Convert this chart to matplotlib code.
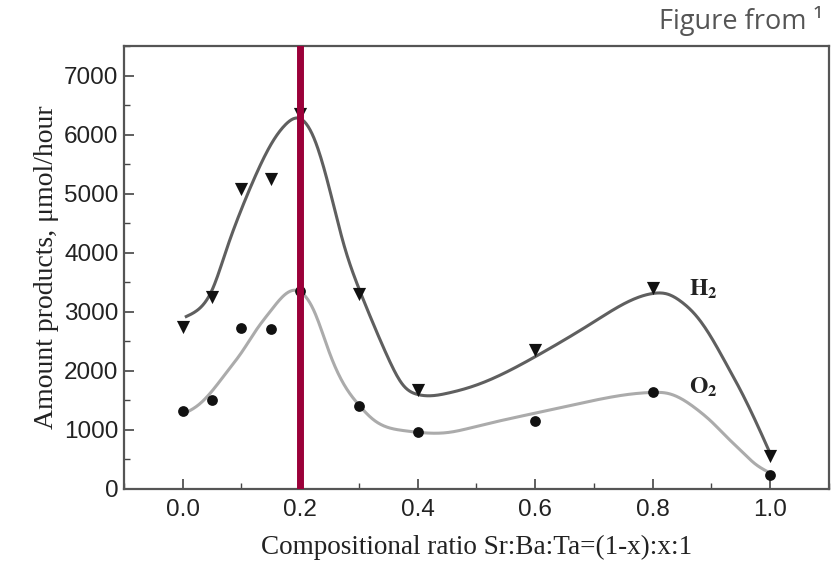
import numpy as np
import matplotlib.pyplot as plt
from matplotlib.ticker import MultipleLocator

plt.rcParams['mathtext.fontset'] = 'stix'

# measured points
x_pts = [0.0, 0.05, 0.10, 0.15, 0.20, 0.30, 0.40, 0.60, 0.80, 1.00]
h2_pts = [2750, 3250, 5080, 5240, 6340, 3300, 1680, 2360, 3400, 560]
o2_pts = [1320, 1510, 2730, 2710, 3360, 1400, 970, 1150, 1640, 240]

# smooth guide curves (knots)
h2_curve_x = [0.006, 0.03, 0.05, 0.075, 0.10, 0.125, 0.15, 0.175, 0.20, 0.225,
              0.25, 0.275, 0.30, 0.325, 0.35, 0.375, 0.40, 0.425, 0.45, 0.50,
              0.60, 0.70, 0.75, 0.80, 0.825, 0.85, 0.875, 0.90, 0.925, 0.95,
              0.975, 1.00]
h2_curve_y = [2920, 3070, 3370, 4070, 4740, 5330, 5830, 6170, 6270, 5900,
              5070, 4110, 3390, 2780, 2210, 1760, 1600, 1580, 1620, 1760,
              2240, 2830, 3130, 3310, 3300, 3160, 2920, 2560, 2120, 1660,
              1150, 600]
o2_curve_x = [0.003, 0.025, 0.05, 0.075, 0.10, 0.125, 0.15, 0.175, 0.195, 0.225,
              0.25, 0.275, 0.30, 0.325, 0.35, 0.375, 0.40, 0.45, 0.50, 0.60,
              0.70, 0.75, 0.80, 0.825, 0.85, 0.875, 0.90, 0.925, 0.95, 0.975,
              1.00]
o2_curve_y = [1280, 1410, 1660, 1980, 2310, 2690, 3020, 3300, 3360, 2980,
              2300, 1760, 1420, 1170, 1040, 990, 960, 955, 1060, 1285,
              1500, 1590, 1635, 1620, 1520, 1350, 1140, 890, 650, 420,
              270]

marker_x = 0.2


def natural_spline(xk, yk, n=600):
    xk = np.asarray(xk, float)
    yk = np.asarray(yk, float)
    m = len(xk)
    h = np.diff(xk)
    A = np.zeros((m, m))
    b = np.zeros(m)
    A[0, 0] = A[-1, -1] = 1
    for i in range(1, m - 1):
        A[i, i - 1] = h[i - 1]
        A[i, i] = 2 * (h[i - 1] + h[i])
        A[i, i + 1] = h[i]
        b[i] = 6 * ((yk[i + 1] - yk[i]) / h[i] - (yk[i] - yk[i - 1]) / h[i - 1])
    M = np.linalg.solve(A, b)
    xs = np.linspace(xk[0], xk[-1], n)
    idx = np.clip(np.searchsorted(xk, xs) - 1, 0, m - 2)
    x0, x1 = xk[idx], xk[idx + 1]
    hh = x1 - x0
    t0, t1 = x1 - xs, xs - x0
    ys = (M[idx] * t0 ** 3 + M[idx + 1] * t1 ** 3) / (6 * hh) \
        + (yk[idx] / hh - M[idx] * hh / 6) * t0 \
        + (yk[idx + 1] / hh - M[idx + 1] * hh / 6) * t1
    return xs, ys


fig = plt.figure(figsize=(8.35, 5.69), dpi=100)
ax = fig.add_axes([0.1485, 0.1406, 0.8443, 0.7786])

xs, ys = natural_spline(h2_curve_x, h2_curve_y)
ax.plot(xs, ys, color='#5f5f5f', lw=2.2, zorder=2)
xs, ys = natural_spline(o2_curve_x, o2_curve_y)
ax.plot(xs, ys, color='#ababab', lw=2.2, zorder=2)

ax.scatter(x_pts, h2_pts, marker='v', s=90, color='#111111', zorder=3, linewidths=0)
ax.scatter(x_pts, o2_pts, marker='o', s=60, color='#111111', zorder=3, linewidths=0)

ax.axvline(marker_x, color='#9b0039', lw=5, zorder=4)

ax.text(0.862, 3390, r'$\mathbf{H_2}$', fontsize=17, va='center', ha='left',
        color='#222222')
ax.text(0.862, 1730, r'$\mathbf{O_2}$', fontsize=17, va='center', ha='left',
        color='#222222')

ax.set_xlim(-0.1, 1.1)
ax.set_ylim(0, 7500)
ax.xaxis.set_major_locator(MultipleLocator(0.2))
ax.xaxis.set_minor_locator(MultipleLocator(0.1))
ax.yaxis.set_major_locator(MultipleLocator(1000))
ax.yaxis.set_minor_locator(MultipleLocator(500))
ax.set_xticks([0.0, 0.2, 0.4, 0.6, 0.8, 1.0])
ax.set_xticklabels(['0.0', '0.2', '0.4', '0.6', '0.8', '1.0'])
ax.tick_params(which='both', direction='in', top=False, right=False,
               color='#444444', labelcolor='#222222')
ax.tick_params(which='major', length=7, width=1.2, labelsize=17.5)
ax.tick_params(which='minor', length=4, width=1.0)
ax.tick_params(axis='y', pad=4)
ax.tick_params(axis='x', pad=7)
for lab in ax.get_xticklabels() + ax.get_yticklabels():
    lab.set_family('Liberation Sans')
for sp in ax.spines.values():
    sp.set_color('#555555')
    sp.set_linewidth(1.6)

ax.set_xlabel('Compositional ratio Sr:Ba:Ta=(1-x):x:1', family='Liberation Serif',
              fontsize=19.5, color='#222222', labelpad=10)
ax.set_ylabel('Amount products, \u03bcmol/hour', family='Liberation Serif',
              fontsize=20, color='#222222', labelpad=4)

fig.text(0.986, 0.9485, 'Figure from \u00b9', ha='right', va='baseline',
         fontsize=19.5, color='#555555', family='Open Sans')

fig.savefig('out.png', dpi=100)
